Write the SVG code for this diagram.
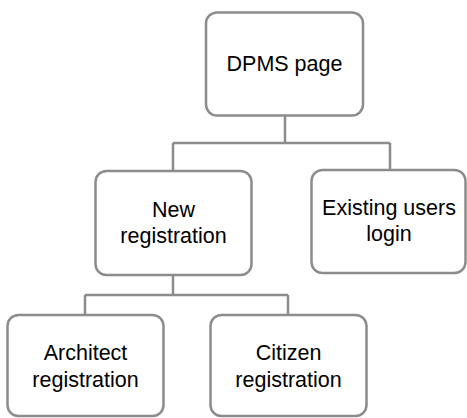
<svg xmlns="http://www.w3.org/2000/svg" width="467" height="418" viewBox="0 0 467 418">
<style>
.box{fill:#ffffff;stroke:#8c8c8c;stroke-width:2.5}
.con{fill:none;stroke:#8c8c8c;stroke-width:2.5}
text{font-family:"Liberation Sans",Arial,sans-serif;font-size:21.5px;fill:#000000;text-anchor:middle}
</style>
<rect width="467" height="418" fill="#ffffff"/>
<g id="connectors">
<path class="con" d="M285,115 V143 M173,143 H390 M173,143 V171 M390,143 V170"/>
<path class="con" d="M173,275 V295 M85,295 H288 M85,295 V315 M288,295 V315"/>
</g>
<g id="dpms">
<rect class="box" x="206" y="12.5" width="157" height="103" rx="11"/>
<text x="284.5" y="71">DPMS page</text>
</g>
<g id="new-registration">
<rect class="box" x="95.5" y="171" width="156" height="104" rx="11"/>
<text x="173.5" y="217">New</text>
<text x="173.5" y="243">registration</text>
</g>
<g id="existing-users">
<rect class="box" x="311.5" y="170" width="154" height="103" rx="11"/>
<text x="389" y="215">Existing users</text>
<text x="389" y="241">login</text>
</g>
<g id="architect">
<rect class="box" x="7.5" y="315" width="156" height="101" rx="11"/>
<text x="85.5" y="360">Architect</text>
<text x="85.5" y="387">registration</text>
</g>
<g id="citizen">
<rect class="box" x="210.5" y="315" width="156" height="101" rx="11"/>
<text x="288.5" y="360">Citizen</text>
<text x="288.5" y="387">registration</text>
</g>
</svg>
